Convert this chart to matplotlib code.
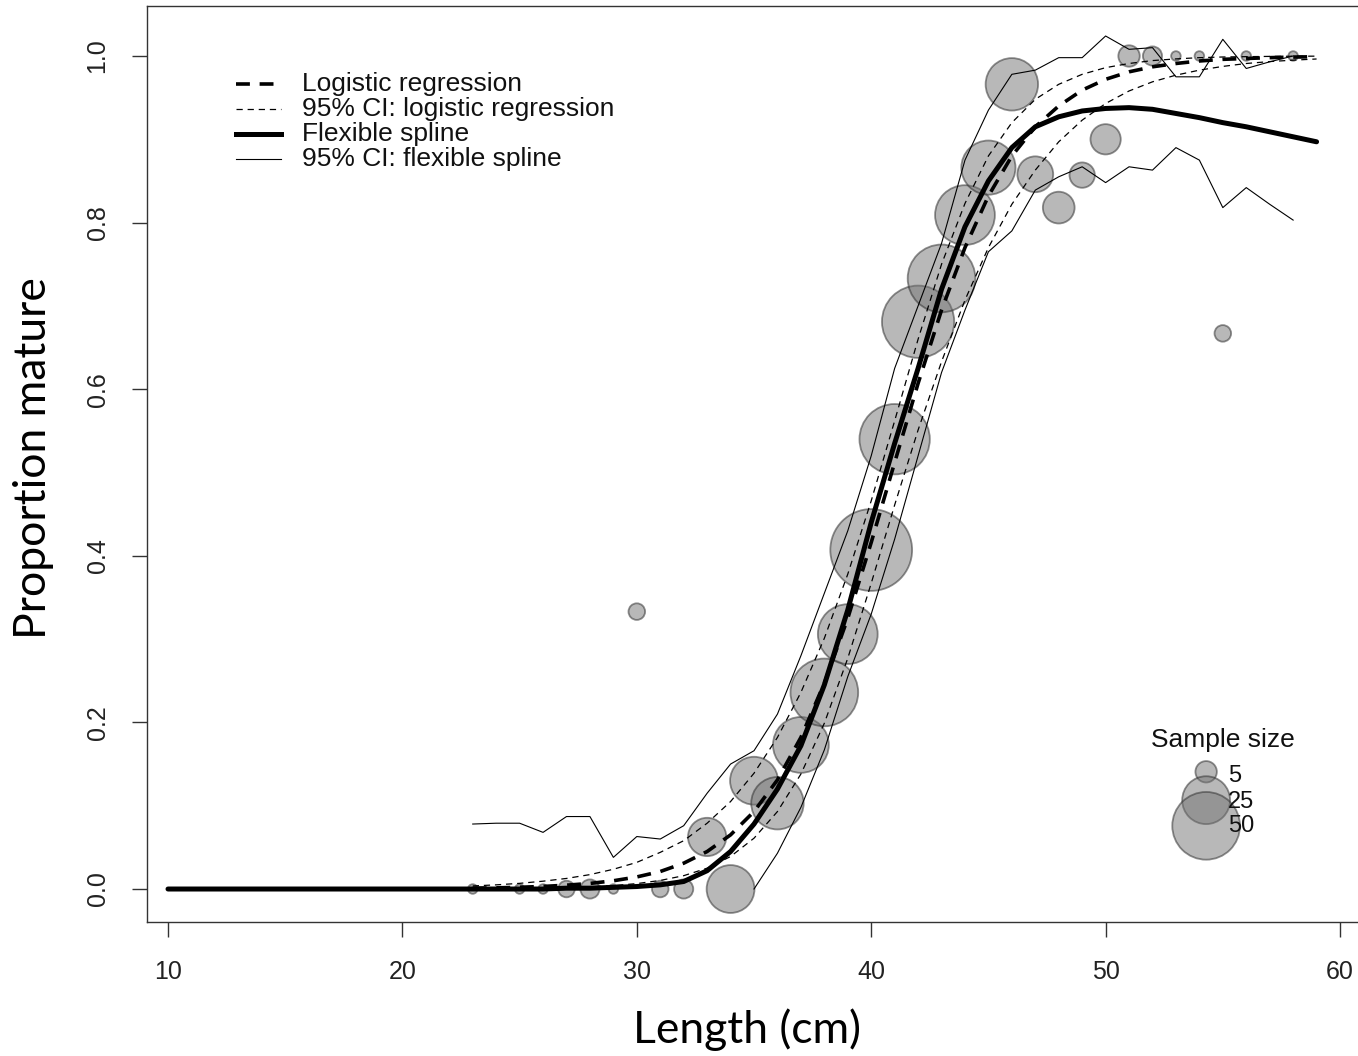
import numpy as np
import matplotlib
matplotlib.use("Agg")
import matplotlib.pyplot as plt
from matplotlib.lines import Line2D

plt.rcParams['font.family'] = ['Liberation Sans', 'DejaVu Sans']
plt.rcParams['lines.scale_dashes'] = False

# observed proportions by 1 cm length class
length_bins = [23, 25, 26, 27, 28, 29, 30, 31, 32, 33, 34, 35, 36, 37, 38, 39, 40,
               41, 42, 43, 44, 45, 46, 47, 48, 49, 50, 51, 52, 53, 54, 55, 56, 58]
prop_mature = [0, 0, 0, 0, 0, 0, 0.333, 0, 0, 0.0625, 0, 0.13, 0.103, 0.173, 0.236,
               0.306, 0.407, 0.540, 0.681, 0.733, 0.809, 0.866, 0.966, 0.858, 0.818,
               0.857, 0.90, 1, 1, 1, 1, 0.667, 1, 1]
sample_n = [1, 1, 1, 3, 4, 1, 3, 3, 4, 16, 25, 25, 30, 34, 50, 39, 73, 54, 57, 50,
            39, 32, 30, 14, 11, 7, 10, 5, 4, 1, 1, 3, 1, 1]

# logistic regression fit and 95% CI (23-59 cm)
logit_len = list(range(23, 60))
logit_fit = [0.001, 0.0014, 0.0021, 0.0031, 0.0046, 0.0067, 0.0099, 0.0145, 0.021,
             0.031, 0.045, 0.065, 0.093, 0.131, 0.182, 0.247, 0.325, 0.416, 0.512,
             0.607, 0.695, 0.770, 0.832, 0.880, 0.915, 0.940, 0.959, 0.972, 0.981,
             0.987, 0.991, 0.994, 0.996, 0.997, 0.998, 0.9987, 0.9991]
logit_upper = [0.0037, 0.005, 0.0068, 0.0094, 0.0127, 0.0173, 0.0237, 0.032, 0.044,
               0.058, 0.079, 0.105, 0.139, 0.182, 0.236, 0.301, 0.378, 0.466, 0.562,
               0.660, 0.750, 0.823, 0.880, 0.920, 0.948, 0.966, 0.978, 0.986, 0.991,
               0.9945, 0.9965, 0.998, 0.9988, 0.9992, 0.9995, 0.9997, 0.9998]
logit_lower = [0.0003, 0.0004, 0.0006, 0.001, 0.0016, 0.0026, 0.0041, 0.0065, 0.0103,
               0.016, 0.025, 0.039, 0.061, 0.093, 0.138, 0.199, 0.277, 0.367, 0.461,
               0.551, 0.633, 0.707, 0.770, 0.822, 0.863, 0.897, 0.923, 0.943, 0.958,
               0.969, 0.977, 0.983, 0.9875, 0.991, 0.9933, 0.995, 0.9964]

# flexible spline fit (10-59 cm) and its 95% CI
spline_len = list(range(10, 60))
spline_fit = [0.0] * 17 + [0.001, 0.001, 0.002, 0.003, 0.005, 0.009, 0.022, 0.045,
                           0.078, 0.12, 0.172, 0.245, 0.335, 0.44, 0.535, 0.625, 0.72,
                           0.795, 0.85, 0.89, 0.915, 0.927, 0.934, 0.937, 0.938, 0.936,
                           0.931, 0.926, 0.920, 0.915, 0.909, 0.903, 0.897]
spl_up_len = list(range(23, 59))
spline_upper = [0.078, 0.079, 0.079, 0.068, 0.087, 0.087, 0.038, 0.063, 0.06, 0.076,
                0.115, 0.15, 0.166, 0.21, 0.28, 0.355, 0.43, 0.52, 0.625, 0.70, 0.775,
                0.875, 0.935, 0.978, 0.983, 0.998, 0.998, 1.024, 1.008, 1.01, 0.975,
                0.975, 1.02, 0.985, 0.993, 1.0]
spl_lo_len = list(range(35, 59))
spline_lower = [0.0, 0.043, 0.098, 0.167, 0.255, 0.33, 0.42, 0.52, 0.62, 0.695, 0.765,
                0.79, 0.839, 0.855, 0.867, 0.848, 0.867, 0.863, 0.89, 0.875, 0.818,
                0.842, 0.822, 0.803]

legend_sizes = [5, 25, 50]
xticks = [10, 20, 30, 40, 50, 60]
yticks = [0.0, 0.2, 0.4, 0.6, 0.8, 1.0]

fig = plt.figure(figsize=(13.58, 10.56), dpi=100)
ax = fig.add_axes([0.10825, 0.12689, 0.9006, 0.86742])

face = (0.45, 0.45, 0.45, 0.5)
edge = (0.2, 0.2, 0.2, 0.55)
size_scale = 47.5  # pt^2 per fish -> circle area proportional to n

ax.scatter(length_bins, prop_mature, s=np.array(sample_n) * size_scale,
           facecolor=face, edgecolor=edge, linewidth=1.3, zorder=2)

thick_dash = (0, (10, 7))
thin_dash = (0, (4.5, 3.5))
ax.plot(logit_len, logit_fit, color='black', lw=2.6, linestyle=thick_dash, zorder=3)
ax.plot(logit_len, logit_upper, color='black', lw=0.9, linestyle=thin_dash, zorder=3)
ax.plot(logit_len, logit_lower, color='black', lw=0.9, linestyle=thin_dash, zorder=3)
ax.plot(spline_len, spline_fit, color='black', lw=3.6, solid_capstyle='round', zorder=4)
ax.plot(spl_up_len, spline_upper, color='black', lw=0.8, zorder=3)
ax.plot(spl_lo_len, spline_lower, color='black', lw=0.8, zorder=3)

ax.set_xlim(9.104, 61.28)
ax.set_ylim(-0.0396, 1.06)
ax.set_xticks(xticks)
ax.set_yticks(yticks)
ax.set_xticklabels([str(t) for t in xticks])
ax.set_yticklabels(['%.1f' % t for t in yticks], rotation=90, va='center')
ax.tick_params(axis='both', direction='out', length=11, width=1.0, color='#333333',
               labelsize=18, labelcolor='#222222', pad=16)
for sp in ax.spines.values():
    sp.set_linewidth(1.0)
    sp.set_color('#333333')

ax.set_xlabel('Length (cm)', family='Lato', fontsize=32, va='center')
ax.set_ylabel('Proportion mature', family='Lato', fontsize=32, va='center')
ax.xaxis.set_label_coords(0.4906, -0.118)
ax.yaxis.set_label_coords(-0.0932, 0.5066)

# line legend, top left
leg_rows = [
    ('Logistic regression', dict(lw=2.6, linestyle=thick_dash)),
    ('95% CI: logistic regression', dict(lw=0.9, linestyle=thin_dash)),
    ('Flexible spline', dict(lw=3.6)),
    ('95% CI: flexible spline', dict(lw=0.8)),
]
row_y = [0.9148, 0.8876, 0.8603, 0.8330]
for (label, style), yy in zip(leg_rows, row_y):
    ax.add_line(Line2D([0.0728, 0.1096], [yy, yy], color='black',
                       transform=ax.transAxes, **style))
    ax.text(0.1267, yy, label, transform=ax.transAxes, fontsize=19,
            va='center', ha='left', color='#111111')

# sample size legend
ss_y = [0.164, 0.133, 0.105]
ax.scatter([0.866] * 3, ss_y, s=np.array(legend_sizes) * size_scale,
           facecolor=face, edgecolor=edge, linewidth=1.3, transform=ax.transAxes,
           zorder=2)
ax.text(0.8798, 0.199, 'Sample size', transform=ax.transAxes, fontsize=19,
        ha='center', va='center', color='#111111')
for n, yy in zip(legend_sizes, [0.159, 0.131, 0.105]):
    ax.text(0.884, yy, str(n), transform=ax.transAxes, fontsize=17,
            ha='left', va='center', color='#111111')

fig.savefig('out.png', dpi=100)
